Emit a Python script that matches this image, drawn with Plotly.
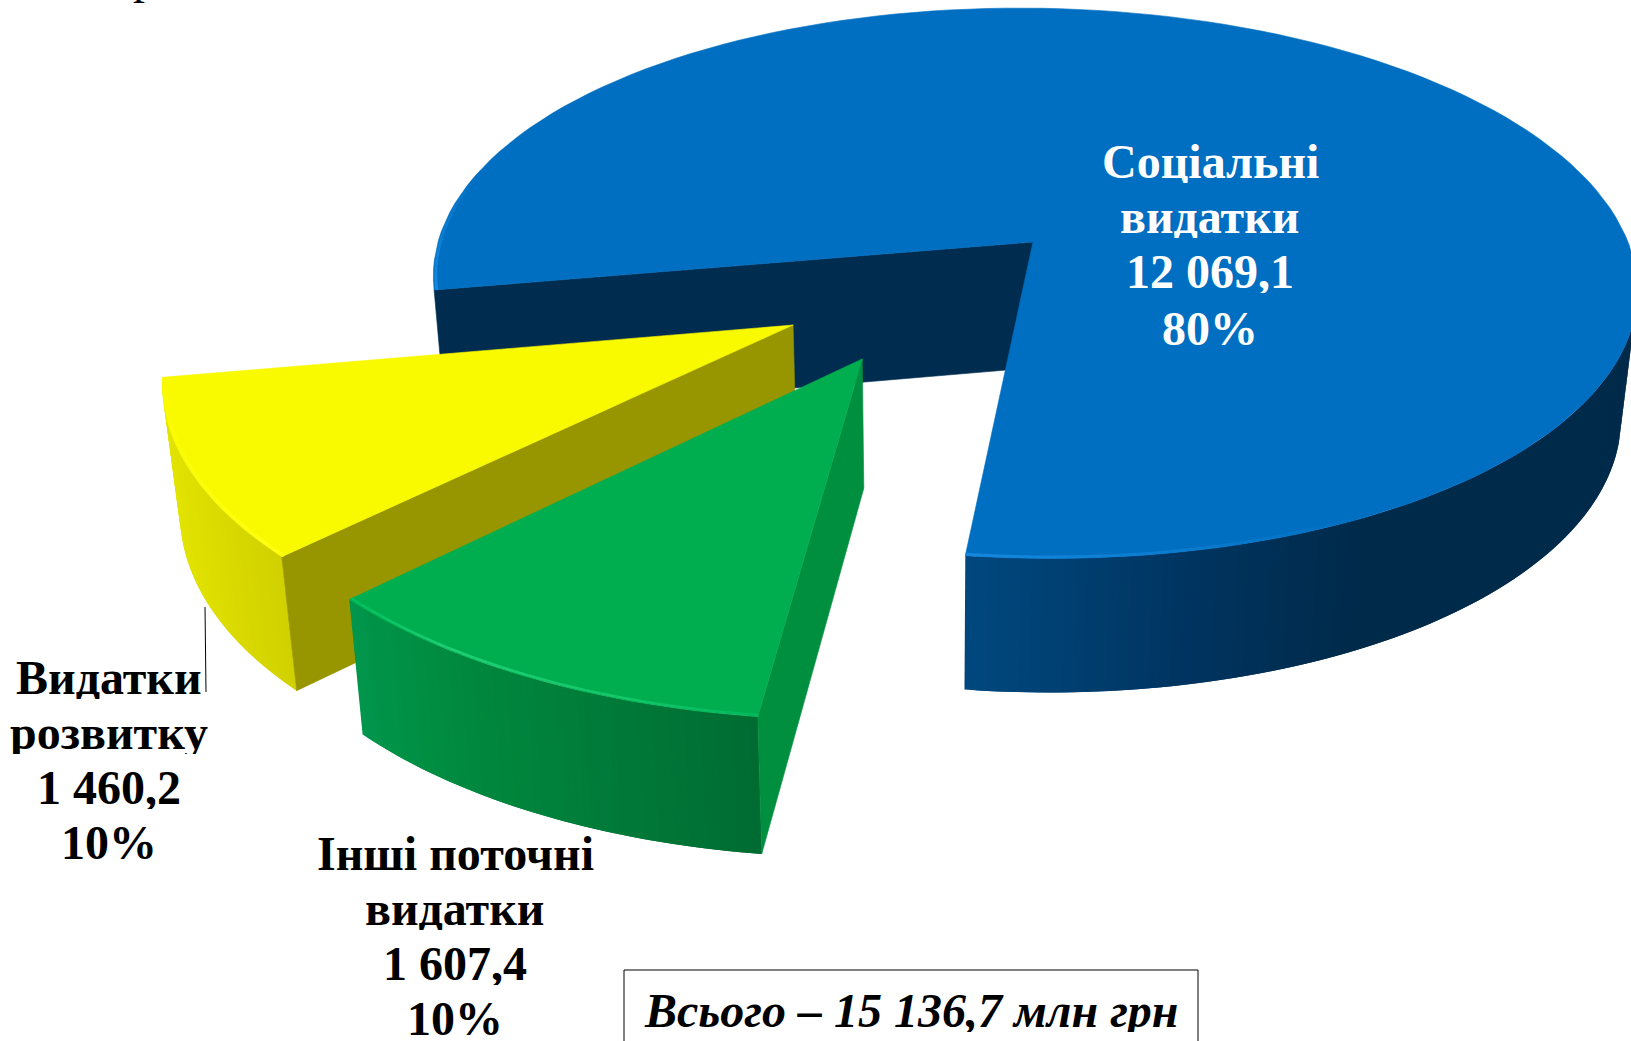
import math
import plotly.graph_objects as go

categories = ["Соціальні видатки", "Видатки розвитку", "Інші поточні видатки"]
values = [12069.1, 1460.2, 1607.4]
value_labels = ["12 069,1", "1 460,2", "1 607,4"]
percent_labels = ["80%", "10%", "10%"]
total_label = "Всього – 15 136,7 млн грн"

# projection of the tilted disc on the picture
W, H = 1631, 1041
XV, OFFS, A, Y0, K, P = 930, 103, 595, 242, 269, 0.15
SHRINK, H0, H1 = 0.977, 126, 8
START_DEG = 170


def project(ex, ey, x, y, low=False):
    px, py = ex + x, ey + y
    w = 1 - P * py
    sx = XV + (A * px + OFFS) / w
    sy = Y0 + K * py / w
    if low:
        sx = XV + (sx - XV) * SHRINK
        sy += H0 + H1 * py
    return sx, sy


def on_circle(c, deg, low=False, inset=0.0):
    ex, ey, r = c
    t = math.radians(deg)
    return project(ex, ey, (r - inset) * math.cos(t), (r - inset) * math.sin(t), low)


def hex2rgb(c):
    return tuple(int(c[i:i + 2], 16) for i in (1, 3, 5))


def ramp(stops, x):
    if x <= stops[0][0]:
        return stops[0][1]
    for (x0, c0), (x1, c1) in zip(stops, stops[1:]):
        if x <= x1:
            f = (x - x0) / (x1 - x0)
            a, b = hex2rgb(c0), hex2rgb(c1)
            return "#%02x%02x%02x" % tuple(round(a[i] + (b[i] - a[i]) * f) for i in range(3))
    return stops[-1][1]


fig = go.Figure()


def poly(pts, color, lw=0.6):
    xs = [p[0] for p in pts] + [pts[0][0]]
    ys = [p[1] for p in pts] + [pts[0][1]]
    fig.add_trace(go.Scatter(x=xs, y=ys, mode="lines", fill="toself", fillcolor=color,
                             line=dict(color=color, width=lw), hoverinfo="skip", showlegend=False))


def seg(a, b, color, width):
    fig.add_trace(go.Scatter(x=[a[0], b[0]], y=[a[1], b[1]], mode="lines",
                             line=dict(color=color, width=width), hoverinfo="skip", showlegend=False))


def arc(c, d0, d1, n, low=False, inset=0.0):
    return [on_circle(c, d0 + (d1 - d0) * i / n, low, inset) for i in range(n + 1)]


def side(c, d0, d1, n, stops):
    # strips are laid so that each one overlaps the next, which hides the seams
    top_pts = arc(c, d0, d1, n)
    bot_pts = arc(c, d0, d1, n, True)
    for i in range(n):
        j = min(i + 2, n)
        poly([top_pts[i], top_pts[j], bot_pts[j], bot_pts[i]],
             ramp(stops, (top_pts[i][0] + top_pts[i + 1][0]) / 2), 0)


def wall(c, deg, color):
    apex_t = project(c[0], c[1], 0, 0)
    apex_b = project(c[0], c[1], 0, 0, True)
    poly([apex_t, on_circle(c, deg), on_circle(c, deg, True), apex_b], color)


def top(c, d0, d1, n, color):
    poly([project(c[0], c[1], 0, 0)] + arc(c, d0, d1, n), color)


def rim(c, d0, d1, n, stops, width, inset=0.004):
    pts = arc(c, d0, d1, n, False, inset)
    for i in range(n):
        seg(pts[i], pts[i + 1], ramp(stops, i / n), width)


total = sum(values)
sweep = [v / total * 360 for v in values]
blue_end = START_DEG + sweep[0]
yellow_end = START_DEG - sweep[1]
green_end = yellow_end - sweep[2]

# blue slice
B_C = (0, 0, 1.0)
wall(B_C, START_DEG, "#002d4f")
side(B_C, blue_end - 360, 15, 90,
     [(965, "#00487f"), (1180, "#003562"), (1360, "#002a4a")])
top(B_C, START_DEG, blue_end, 140, "#006fc1")
rim(B_C, blue_end - 360, blue_end - 360 - 34, 24, [(0, "#1587dc"), (1, "#006fc1")], 3)
rim(B_C, START_DEG, START_DEG + 26, 16, [(0, "#1587dc"), (1, "#006fc1")], 3)

# yellow slice
Y_C = (-0.393, 0.295, 0.995)
side(Y_C, START_DEG, yellow_end, 40, [(160, "#e4e400"), (283, "#d0d000")])
wall(Y_C, yellow_end, "#979500")
top(Y_C, yellow_end, START_DEG, 30, "#f9f900")
rim(Y_C, yellow_end, START_DEG, 20, [(0, "#ffff10"), (1, "#f9f900")], 3)

# green slice
G_C = (-0.28, 0.408, 0.995)
side(G_C, yellow_end, green_end, 60,
     [(350, "#00964b"), (450, "#008a3f"), (640, "#007737"), (757, "#006c32")])
wall(G_C, green_end, "#008f3e")
top(G_C, yellow_end, green_end, 30, "#00ae50")
rim(G_C, yellow_end, green_end, 30,
    [(0, "#00c061"), (0.3, "#1fd074"), (0.7, "#14c86a"), (1, "#00b85a")], 2.5)

fig.update_layout(
    width=W, height=H, margin=dict(l=0, r=0, t=0, b=0), showlegend=False,
    paper_bgcolor="white", plot_bgcolor="white",
    xaxis=dict(range=[0, W], visible=False, fixedrange=True),
    yaxis=dict(range=[H, 0], visible=False, fixedrange=True),
)

SERIF = "Liberation Serif"


def label(x, y, text, color="black", size=48, box_h=None):
    fig.add_annotation(x=x, y=y, text=text, showarrow=False, xanchor="center", yanchor="middle",
                       height=box_h, font=dict(family=SERIF, size=size, color=color))


def block(x, ys, lines, color="black"):
    for yy, line in zip(ys, lines):
        label(x, yy, "<b>%s</b>" % line, color, box_h=44)


block(1210, [161, 216, 271, 328],
      ["Соціальні", "видатки", value_labels[0], percent_labels[0]], "white")
block(109, [677, 732, 787, 842],
      ["Видатки", "розвитку", value_labels[1], percent_labels[1]])
block(455, [853, 908, 963, 1018],
      ["Інші поточні", "видатки", value_labels[2], percent_labels[2]])

fig.add_shape(type="line", x0=205, y0=607, x1=206, y1=692, line=dict(color="black", width=1))
fig.add_shape(type="rect", x0=624, y0=970, x1=1198, y1=1080, line=dict(color="black", width=1))
label(911, 1010, "<b><i>%s</i></b>" % total_label, box_h=44)
fig.add_annotation(xref="paper", yref="paper", x=145 / W, y=1 + 24 / H, text="р", showarrow=False,
                   xanchor="center", yanchor="middle",
                   font=dict(family=SERIF, size=48, color="black"))

fig.write_html("out.html", config=dict(displayModeBar=False),
               post_script="document.body.style.margin='0';document.body.style.overflow='hidden';")
